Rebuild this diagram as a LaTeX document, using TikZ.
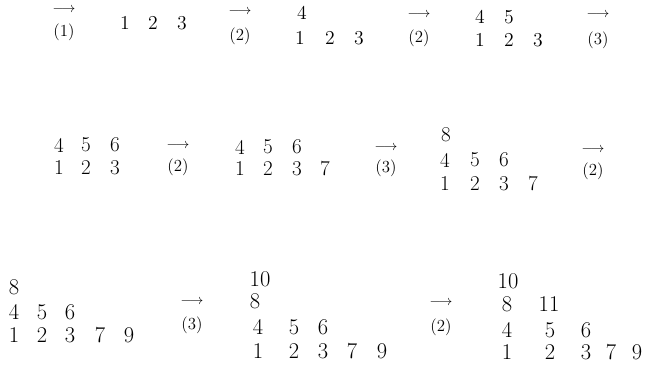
\documentclass[tikz,border=0pt]{standalone}
\usetikzlibrary{positioning}

\begin{document}
\begin{tikzpicture}[
        x=0.025cm, y=-0.025cm,
        every node/.style={inner sep=0pt},
        digit/.style={font=\fontsize{14}{16}\selectfont},
        middigit/.style={font=\fontsize{15}{17}\selectfont},
        bigdigit/.style={font=\fontsize{16}{18}\selectfont},
        arrowsym/.style={font=\fontsize{10}{12}\selectfont},
        rulelabel/.style={font=\fontsize{12}{14}\selectfont}
    ]
    \useasboundingbox (0,0) rectangle (648,367);

    % first line
    \node[arrowsym] (arr1) at (64,10) {$\longrightarrow$};
    \node[rulelabel] (lab1) at (64,32) {(1)};
    \foreach \d/\x in {1/125,2/153,3/182}
        \node[digit] (ga-\d) at (\x,23) {\d};

    \node[arrowsym] (arr2) at (240,12) {$\longrightarrow$};
    \node[rulelabel] (lab2) at (240,36) {(2)};
    \node[digit] (gb-4) at (302,13) {4};
    \foreach \d/\x in {1/300,2/330,3/359}
        \node[digit] (gb-\d) at (\x,38) {\d};

    \node[arrowsym] (arr3) at (419,15) {$\longrightarrow$};
    \node[rulelabel] (lab3) at (419,38) {(2)};
    \foreach \d/\x in {4/480,5/509}
        \node[digit] (gc-\d) at (\x,17) {\d};
    \foreach \d/\x in {1/480,2/509,3/538}
        \node[digit] (gc-\d) at (\x,40) {\d};

    \node[arrowsym] (arr4) at (598,15) {$\longrightarrow$};
    \node[rulelabel] (lab4) at (598,40) {(3)};

    % second line
    \foreach \d/\x in {4/59,5/86,6/115}
        \node[middigit] (gd-\d) at (\x,145) {\d};
    \foreach \d/\x in {1/59,2/86,3/115}
        \node[middigit] (gd-\d) at (\x,168) {\d};

    \node[arrowsym] (arr5) at (178,146) {$\longrightarrow$};
    \node[rulelabel] (lab5) at (178,167) {(2)};
    \foreach \d/\x in {4/240,5/268,6/297}
        \node[middigit] (ge-\d) at (\x,147) {\d};
    \foreach \d/\x in {1/240,2/268,3/297,7/325}
        \node[middigit] (ge-\d) at (\x,169) {\d};

    \node[arrowsym] (arr6) at (386,148) {$\longrightarrow$};
    \node[rulelabel] (lab6) at (386,168) {(3)};
    \node[middigit] (gf-8) at (446,135) {8};
    \foreach \d/\x in {4/445,5/475,6/504}
        \node[middigit] (gf-\d) at (\x,160) {\d};
    \foreach \d/\x in {1/445,2/475,3/504,7/533}
        \node[middigit] (gf-\d) at (\x,184) {\d};

    \node[arrowsym] (arr7) at (593,150) {$\longrightarrow$};
    \node[rulelabel] (lab7) at (593,171) {(2)};

    % third line
    \node[bigdigit] (gg-8) at (14,287) {8};
    \foreach \d/\x in {4/14,5/42,6/70}
        \node[bigdigit] (gg-\d) at (\x,312) {\d};
    \foreach \d/\x in {1/14,2/42,3/70,7/100,9/129}
        \node[bigdigit] (gg-\d) at (\x,335) {\d};

    \node[arrowsym] (arr8) at (192,302) {$\longrightarrow$};
    \node[rulelabel] (lab8) at (192,325) {(3)};
    \node[bigdigit] (gh-10) at (260,279) {10};
    \node[bigdigit] (gh-8) at (255,301) {8};
    \foreach \d/\x in {4/258,5/294,6/323}
        \node[bigdigit] (gh-\d) at (\x,327) {\d};
    \foreach \d/\x in {1/258,2/294,3/323,7/352,9/382}
        \node[bigdigit] (gh-\d) at (\x,351) {\d};

    \node[arrowsym] (arr9) at (441,303) {$\longrightarrow$};
    \node[rulelabel] (lab9) at (441,327) {(2)};
    \node[bigdigit] (gi-10) at (508,281) {10};
    \foreach \d/\x in {8/507,11/549}
        \node[bigdigit] (gi-\d) at (\x,304) {\d};
    \foreach \d/\x in {4/507,5/550,6/586}
        \node[bigdigit] (gi-\d) at (\x,330) {\d};
    \foreach \d/\x in {1/507,2/550,3/586,7/611,9/637}
        \node[bigdigit] (gi-\d) at (\x,352) {\d};
\end{tikzpicture}
\end{document}
